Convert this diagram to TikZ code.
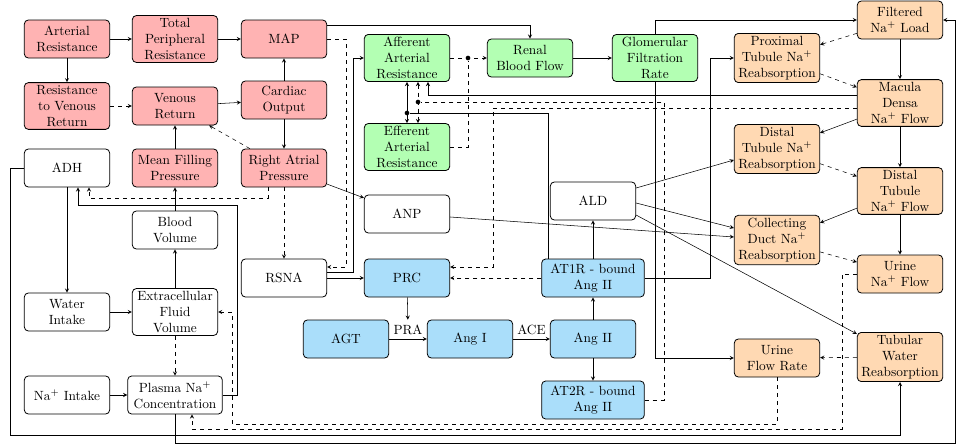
\documentclass[tikz,border=0pt]{standalone}
\usetikzlibrary{arrows}

\definecolor{hemred}{RGB}{255,179,179}
\definecolor{renalgreen}{RGB}{179,255,179}
\definecolor{rasblue}{RGB}{170,222,250}
\definecolor{tubeorange}{RGB}{255,217,179}

\begin{document}
\begin{tikzpicture}[x=0.75pt, y=-0.75pt, thin, >=stealth,
  box/.style={rectangle, rounded corners=3pt, draw, semithick, align=center,
              inner sep=2pt, minimum width=64pt, minimum height=28.5pt},
  redbox/.style={box, fill=hemred},
  greenbox/.style={box, fill=renalgreen},
  bluebox/.style={box, fill=rasblue},
  orangebox/.style={box, fill=tubeorange},
  junction/.style={circle, fill, inner sep=0pt, minimum size=3.5pt}]

  \useasboundingbox (0,0) rectangle (958,447);

  % Nodes
  \draw (67 ,39)  node(AR)   [redbox] {Arterial\\Resistance};
  \draw (175,39)  node(TPR)  [redbox] {Total\\Peripheral\\Resistance};
  \draw (284,39)  node(MAP)  [redbox] {MAP};
  \draw (67 ,106) node(RVR)  [redbox] {Resistance\\to Venous\\Return};
  \draw (175,106) node(VR)   [redbox] {Venous\\Return};
  \draw (284,100) node(CO)   [redbox] {Cardiac\\Output};
  \draw (175,168) node(MFP)  [redbox] {Mean Filling\\Pressure};
  \draw (284,168) node(RAP)  [redbox] {Right Atrial\\Pressure};

  \draw (67 ,168) node(ADH)  [box] {ADH};
  \draw (175,230) node(BV)   [box] {Blood\\Volume};
  \draw (284,278) node(RSNA) [box] {RSNA};
  \draw (407,214) node(ANP)  [box] {ANP};
  \draw (593,201) node(ALD)  [box] {ALD};
  \draw (67 ,312) node(WI)   [box] {Water\\Intake};
  \draw (175,312) node(ECFV) [box] {Extracellular\\Fluid\\Volume};
  \draw (67 ,395) node(NaI)  [box] {Na$^+$ Intake};
  \draw (175,395) node(PNC)  [box, minimum width=71pt] {Plasma Na$^+$\\Concentration};

  \draw (407,58)  node(AAR)  [greenbox] {Afferent\\Arterial\\Resistance};
  \draw (407,147) node(EAR)  [greenbox] {Efferent\\Arterial\\Resistance};
  \draw (530,58)  node(RBF)  [greenbox] {Renal\\Blood Flow};
  \draw (655,58)  node(GFR)  [greenbox] {Glomerular\\Filtration\\Rate};

  \draw (407,278) node(PRC)  [bluebox] {PRC};
  \draw (346,339) node(AGT)  [bluebox] {AGT};
  \draw (470,339) node(AngI) [bluebox] {Ang I};
  \draw (593,339) node(AngII)[bluebox] {Ang II};
  \draw (593,278) node(AT1R) [bluebox, minimum width=77pt] {AT1R - bound\\Ang II};
  \draw (593,400) node(AT2R) [bluebox, minimum width=77pt] {AT2R - bound\\Ang II};

  \draw (777,58)  node(PTR)  [orangebox] {Proximal\\Tubule Na$^+$\\Reabsorption};
  \draw (900,20)  node(FNL)  [orangebox] {Filtered\\Na$^+$ Load};
  \draw (900,103) node(MDNF) [orangebox] {Macula\\Densa\\Na$^+$ Flow};
  \draw (777,149) node(DTR)  [orangebox] {Distal\\Tubule Na$^+$\\Reabsorption};
  \draw (900,191) node(DTF)  [orangebox] {Distal\\Tubule\\Na$^+$ Flow};
  \draw (777,240) node(CDR)  [orangebox] {Collecting\\Duct Na$^+$\\Reabsorption};
  \draw (900,274) node(UNF)  [orangebox] {Urine\\Na$^+$ Flow};
  \draw (777,358) node(UFR)  [orangebox] {Urine\\Flow Rate};
  \draw (900,357) node(TWR)  [orangebox] {Tubular\\Water\\Reabsorption};

  \draw (468,58)  node(J1) [junction] {};
  \draw (407,113) node(J2) [junction] {};
  \draw (418,102) node(J3) [junction] {};

  % Edges
  \path[->]         (AR)   edge (TPR);
  \path[->]         (TPR)  edge (MAP);
  \path[->]         (AR)   edge (RVR);
  \path[->, dashed] (RVR)  edge (VR);
  \path[->]         (VR)   edge (CO);
  \path[->]         (CO)   edge (MAP);
  \path[->]         (CO)   edge (RAP);
  \path[->, dashed] (RAP)  edge (VR);
  \path[->]         (MFP)  edge (VR);
  \path[->]         (BV)   edge (MFP);
  \path[->]         (ECFV) edge (BV);
  \path[->]         (WI)   edge (ECFV);
  \path[->]         (ADH)  edge (WI);
  \path[->]         (NaI)  edge (PNC);
  \path[->, dashed] (ECFV) edge (PNC);
  \path[->, dashed] (RAP)  edge (RSNA);
  \path[->]         (RAP)  edge (ANP);
  \path[->]         (RSNA) edge (PRC);

  \draw[->]         (PNC.east) -| (237,205) -| (ADH.south -| 78,0);
  \draw[->, dashed] (RAP.south -| 268,0) |- (89,198) -- (ADH.south -| 89,0);
  \draw[->]         (MAP.east |- 0,25) -| (RBF.north);
  \draw[->, dashed] (MAP.east) -| (346,267) -- (RSNA.east |- 0,267);
  \draw[->]         (RSNA.east |- 0,272) -| (353,58) -- (AAR.west);

  % renal haemodynamics
  \path[->, dashed] (AAR)  edge (RBF);
  \draw[dashed]     (EAR.east) -| (J1);
  \path[<->]        (AAR)  edge (EAR);
  \draw             (AT1R.north -| 548,0) |- (J2);
  \draw[dashed]     (AT2R.east) -| (664,102) -- (J3);
  \draw[<->, dashed] (AAR.south -| 418,0) -- (EAR.north -| 418,0);
  \draw[->]         (MDNF.west |- 0,95) -| (AAR.south -| 428,0);
  \draw[->, dashed] (MDNF.west |- 0,108) -| (493,267) -- (PRC.east |- 0,267);
  \path[->]         (RBF)  edge (GFR);
  \draw[->]         (GFR.north) |- (FNL.west);
  \draw[->]         (GFR.south) |- (UFR.west);

  % RAAS
  \path[->]         (AGT)   edge node[above] (PRA) {PRA} (AngI);
  \path[->]         (AngI)  edge node[above] {ACE} (AngII);
  \draw[->]         (PRC) -- (PRA);
  \path[->]         (AngII) edge (AT1R);
  \path[->]         (AngII) edge (AT2R);
  \path[->]         (AT1R)  edge (ALD);
  \path[->, dashed] (AT1R)  edge (PRC);
  \draw[->]         (AT1R.east) -| (710,58) -- (PTR.west);

  % tubule
  \path[->, dashed] (FNL)  edge (PTR);
  \path[->, dashed] (PTR)  edge (MDNF);
  \path[->]         (FNL)  edge (MDNF);
  \path[->]         (MDNF) edge (DTR);
  \path[->, dashed] (DTR)  edge (DTF);
  \path[->]         (MDNF) edge (DTF);
  \path[->]         (DTF)  edge (CDR);
  \path[->, dashed] (CDR)  edge (UNF);
  \path[->]         (DTF)  edge (UNF);
  \path[->, dashed] (TWR)  edge (UFR);
  \draw[->]         (ALD.east |- 0,188) -- (DTR.west |- 0,160);
  \draw[->]         (ALD.east |- 0,203) -- (CDR.west |- 0,228);
  \draw[->]         (ALD.east |- 0,215) -- (TWR.west |- 0,334);
  \draw[->]         (ANP.east |- 0,217) -- (CDR.west |- 0,237);

  % outer loops
  \draw[->, dashed] (UNF.west) -| (842,429) -| (PNC.south -| 192,0);
  \draw[->, dashed] (UFR.south) |- (232,424) |- (ECFV.east);
  \draw[->]         (ADH.west) -| (10,435) -| (TWR.south);
  \draw[->]         (PNC.south) |- (955,443) |- (FNL.east);
\end{tikzpicture}
\end{document}
